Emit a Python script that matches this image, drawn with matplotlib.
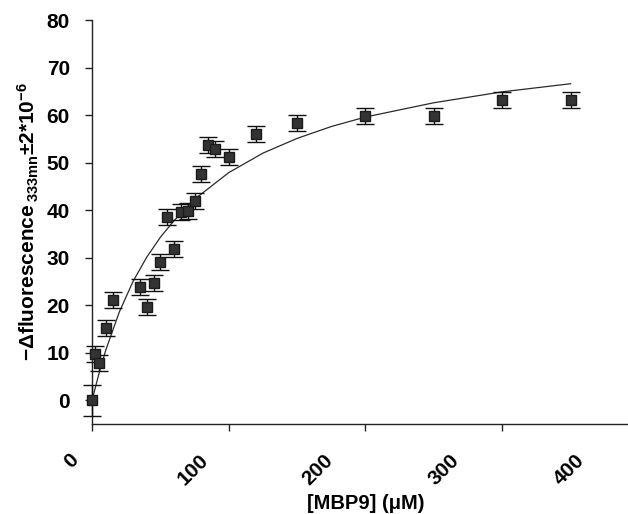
import matplotlib
matplotlib.use("Agg")
import matplotlib.pyplot as plt
from matplotlib.transforms import ScaledTranslation

plt.rcParams["font.family"] = ["Liberation Sans", "DejaVu Sans"]
plt.rcParams["font.weight"] = "bold"
plt.rcParams["mathtext.fontset"] = "custom"
plt.rcParams["mathtext.rm"] = "Liberation Sans:bold"
plt.rcParams["mathtext.it"] = "Liberation Sans:bold"
plt.rcParams["mathtext.bf"] = "Liberation Sans:bold"
plt.rcParams["mathtext.sf"] = "Liberation Sans"

# measured points: [MBP9] (uM) vs -delta fluorescence
conc = [0, 2, 5, 10, 15, 35, 40, 45, 50, 55, 60, 65, 70, 75, 80, 85, 90,
        100, 120, 150, 200, 250, 300, 350]
signal = [0.0, 9.8, 7.8, 15.2, 21.1, 23.9, 19.7, 24.6, 29.1, 38.6, 31.9,
          39.6, 39.9, 41.9, 47.6, 53.7, 52.9, 51.1, 56.0, 58.3, 59.9, 59.9,
          63.2, 63.2]
signal_err = [3.3] + [1.7] * 23

# fitted binding curve
fit_conc = [0, 5, 10, 20, 30, 40, 50, 60, 75, 100, 125, 150, 175, 200,
            250, 300, 350]
fit_signal = [0.0, 5.5, 10.5, 18.6, 25.0, 30.1, 34.3, 37.8, 42.3, 47.9,
              52.0, 55.1, 57.6, 59.6, 62.6, 64.9, 66.6]

x_ticks = [0, 100, 200, 300, 400]
y_ticks = [0, 10, 20, 30, 40, 50, 60, 70, 80]

fig = plt.figure(figsize=(6.28, 5.14), dpi=100)
ax = fig.add_axes([0.1465, 0.175, 0.871, 0.786])

ax.plot(fit_conc, fit_signal, color="#2a2a2a", linewidth=0.9, zorder=2)
bars = ax.errorbar(
    conc,
    signal,
    yerr=signal_err,
    fmt="s",
    color="#333333",
    markeredgecolor="#1a1a1a",
    markersize=6.7,
    ecolor="#111111",
    elinewidth=1.0,
    capsize=6.8,
    capthick=1.0,
    zorder=3,
)
for artist in bars.get_children():
    artist.set_clip_on(False)

ax.set_xlim(0, 400)
ax.set_ylim(-5, 80)
ax.set_xticks(x_ticks)
ax.set_yticks(y_ticks)
ax.spines["top"].set_visible(False)
ax.spines["right"].set_visible(False)
for side in ("left", "bottom"):
    ax.spines[side].set_linewidth(1.0)
    ax.spines[side].set_color("#222222")

ax.tick_params(axis="both", direction="out", length=5, width=1.0,
               color="#222222", labelsize=15)
ax.tick_params(axis="y", pad=11)
ax.tick_params(axis="x", pad=19)

# rotated x labels sit a little left of their ticks, more so further right
shifts_px = [-17, -23, -35, -46, -58]
for lab, dx in zip(ax.get_xticklabels(), shifts_px):
    lab.set_rotation(45)
    lab.set_rotation_mode("anchor")
    lab.set_ha("right")
    lab.set_va("center")
    lab.set_transform(lab.get_transform()
                      + ScaledTranslation(dx / 100, 0, fig.dpi_scale_trans))

ax.set_xlabel("[MBP9] (\u03bcM)", fontsize=14.5, fontweight="bold",
              labelpad=4)
ylab = r"$\mathsf{-\Delta}$fluorescence$\,_{333mn}$" + "\u00b12*10" + r"$^{-6}$"
ax.set_ylabel(ylab, fontsize=15, fontweight="bold", labelpad=4)

fig.savefig("out.png", dpi=100)
